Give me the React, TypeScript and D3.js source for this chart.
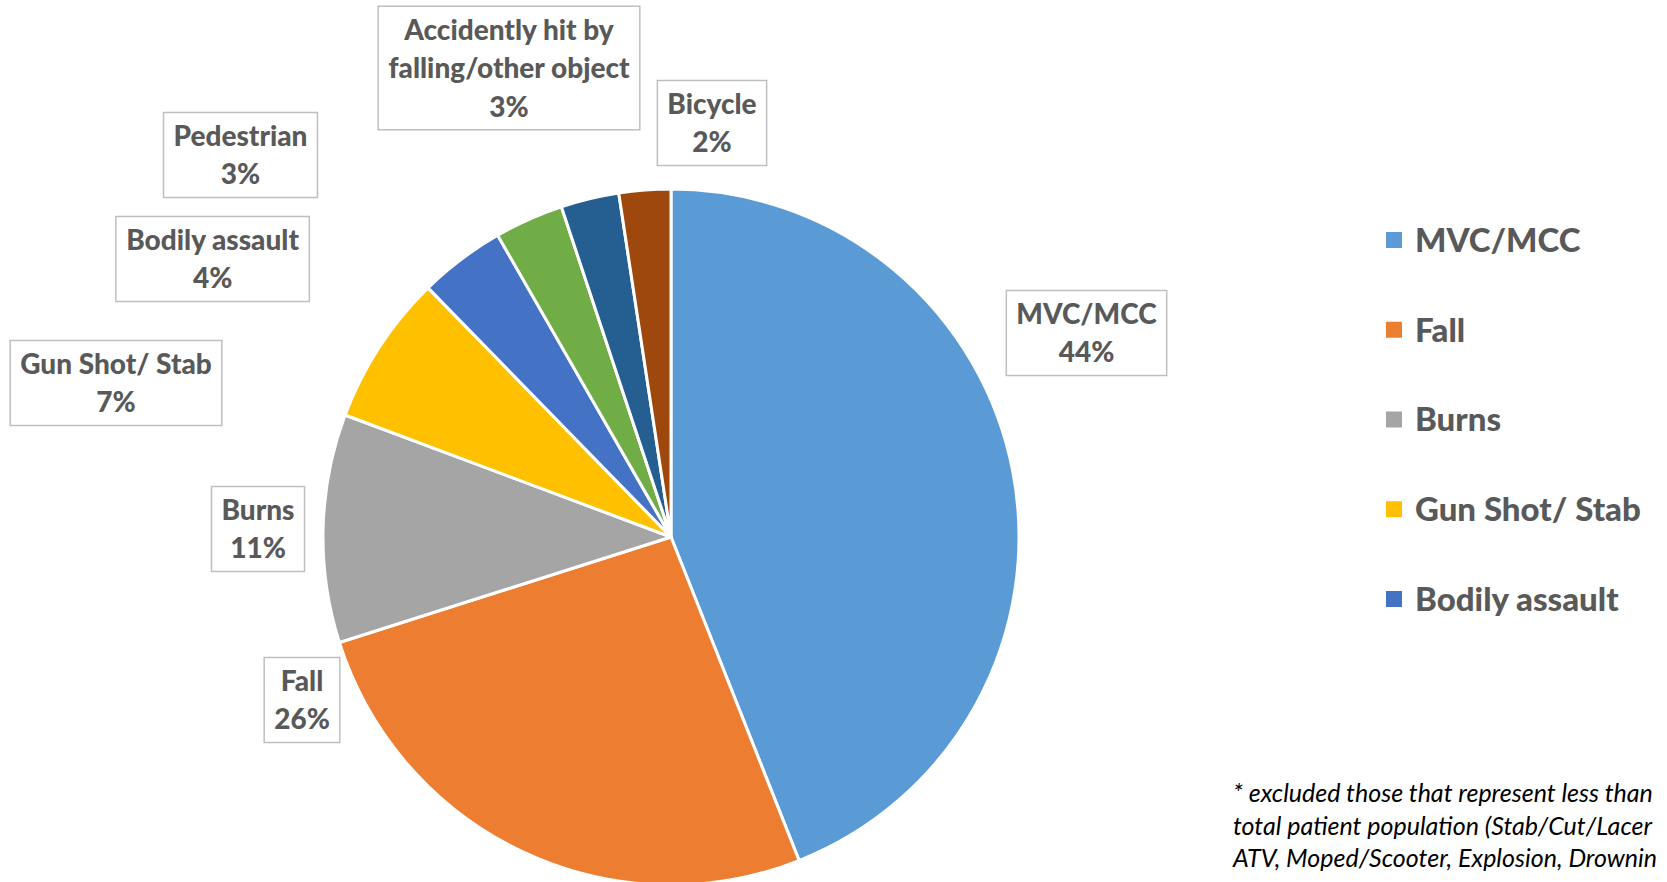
import React from "react";
import * as d3 from "d3";

const categories = [
  "MVC/MCC",
  "Fall",
  "Burns",
  "Gun Shot/ Stab",
  "Bodily assault",
  "Pedestrian",
  "Accidently hit by falling/other object",
  "Bicycle",
];
const values = [44.0, 26.1, 10.6, 7.0, 4.0, 3.2, 2.7, 2.4];
const colors = ["#5B9BD5", "#ED7D31", "#A5A5A5", "#FFC000", "#4472C4", "#70AD47", "#255E91", "#9E480E"];
const labelLines = [
  ["MVC/MCC"],
  ["Fall"],
  ["Burns"],
  ["Gun Shot/ Stab"],
  ["Bodily assault"],
  ["Pedestrian"],
  ["Accidently hit by", "falling/other object"],
  ["Bicycle"],
];
const legendCount = 5;
const footnoteLines = [
  "* excluded those that represent less than",
  "total patient population (Stab/Cut/Lacer",
  "ATV, Moped/Scooter, Explosion, Drownin",
];

// layout (label box centres, in px)
const labelCenters: [number, number][] = [
  [1086.5, 333],
  [302, 700],
  [258, 529],
  [116, 383],
  [212.6, 259],
  [240.5, 155],
  [509, 68],
  [712, 123],
];

const W = 1667;
const H = 882;
const cx = 671;
const cy = 537;
const R = 348;
const FONT = "Lato, 'Open Sans', sans-serif";
const LINE = 38.5;

export default function App() {
  const pie = d3.pie<number>().sort(null).value((d) => d);
  const arcs = pie(values);
  const arc = d3.arc<d3.PieArcDatum<number>>().innerRadius(0).outerRadius(R);
  const textCol = "#595959";

  const labelFontSize = 28;
  const labelWeight = 900;
  const ctx = typeof document !== "undefined" ? document.createElement("canvas").getContext("2d") : null;
  const measure = (s: string) => {
    if (!ctx) return s.length * labelFontSize * 0.5;
    ctx.font = `${labelWeight} ${labelFontSize}px Lato`;
    return ctx.measureText(s).width;
  };

  const legendY = d3.scalePoint<number>().domain(d3.range(legendCount)).range([240, 599]);

  return (
    <svg width={W} height={H} style={{ position: "absolute", left: 0, top: 0 }} fontFamily={FONT}>
      <rect width={W} height={H} fill="#fff" />
      <g transform={`translate(${cx},${cy})`}>
        {arcs.map((a, i) => (
          <path key={i} d={arc(a) || ""} fill={colors[i]} stroke="#fff" strokeWidth={3} strokeLinejoin="round" />
        ))}
      </g>
      {arcs.map((a, i) => {
        const lines = [...labelLines[i], `${Math.round(values[i])}%`];
        const [lx, ly] = labelCenters[i];
        const wMax = Math.max(...lines.map(measure));
        const bw = wMax + 20;
        const bh = lines.length * LINE + 8;
        const top = ly - bh / 2;
        return (
          <g key={"l" + i}>
            <rect x={lx - bw / 2} y={top} width={bw} height={bh} fill="#fff" stroke="#BFBFBF" strokeWidth={1.5} />
            {lines.map((t, j) => (
              <text
                key={j}
                x={lx}
                y={top + 4 + LINE * (j + 0.5)}
                dy="0.36em"
                textAnchor="middle"
                fontSize={labelFontSize}
                fontWeight={labelWeight}
                fill={textCol}
              >
                {t}
              </text>
            ))}
          </g>
        );
      })}
      {d3.range(legendCount).map((i) => (
        <g key={"g" + i} transform={`translate(1386,${legendY(i)})`}>
          <rect x={0} y={-8} width={16} height={16} fill={colors[i]} />
          <text x={29} y={0} dy="0.36em" fontSize={33} fontWeight={labelWeight} fill={textCol}>
            {categories[i]}
          </text>
        </g>
      ))}
      {footnoteLines.map((t, i) => (
        <text key={"f" + i} x={1233} y={802 + i * 32.5} fontSize={25} fontStyle="italic" fill="#000">
          {t}
        </text>
      ))}
    </svg>
  );
}
